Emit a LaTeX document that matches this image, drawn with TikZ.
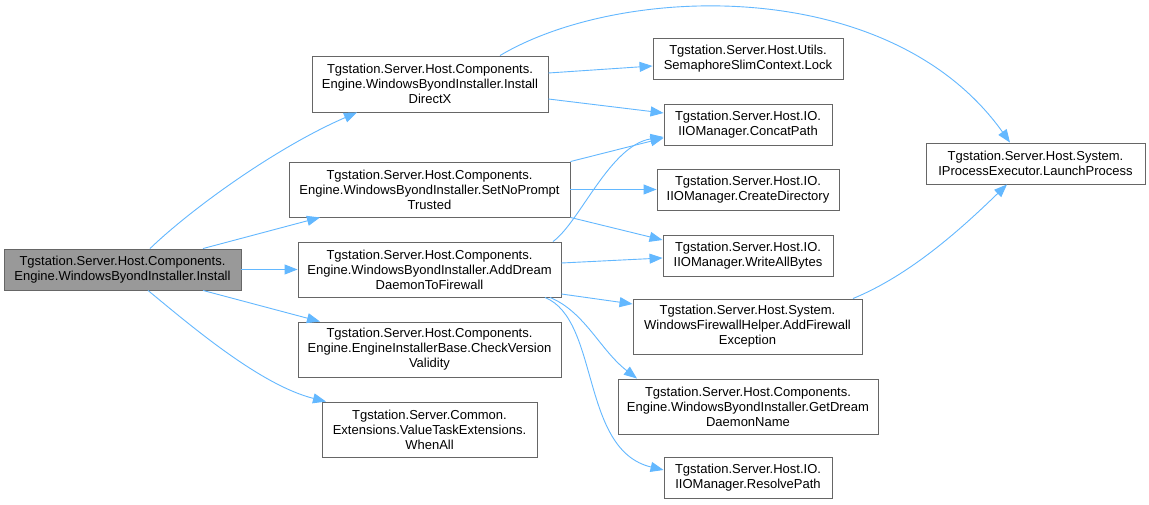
\documentclass[tikz,border=0pt]{standalone}
\usepackage{fontspec}
\setmainfont{Liberation Sans}
\usetikzlibrary{arrows.meta}
\definecolor{edgeblue}{HTML}{63B8FF}
\definecolor{nodeborder}{HTML}{666666}
\definecolor{rootfill}{HTML}{999999}
\begin{document}
\begin{tikzpicture}[x=1pt,y=-1pt,
  fnode/.style={draw=nodeborder, line width=0.9pt, fill=white, inner sep=0pt, align=center,
    font=\fontsize{13}{15}\selectfont},
  rootnode/.style={fnode, fill=rootfill},
  edge/.style={draw=edgeblue, line width=0.9pt, -{Triangle[length=13pt,width=10pt]}}]
\useasboundingbox (0,0) rectangle (1149,505);
\fill[white] (0,0) rectangle (1149,505);

\node[rootnode, minimum width=237pt, minimum height=41pt] (install) at (122.5,269.5)
  {Tgstation.Server.Host.Components.\\Engine.WindowsByondInstaller.Install};
\node[fnode, minimum width=236pt, minimum height=56pt] (idx) at (430,84)
  {Tgstation.Server.Host.Components.\\Engine.WindowsByondInstaller.Install\\DirectX};
\node[fnode, minimum width=281pt, minimum height=55pt] (snp) at (429.5,189.5)
  {Tgstation.Server.Host.Components.\\Engine.WindowsByondInstaller.SetNoPrompt\\Trusted};
\node[fnode, minimum width=263pt, minimum height=55pt] (add) at (429.5,269.5)
  {Tgstation.Server.Host.Components.\\Engine.WindowsByondInstaller.AddDream\\DaemonToFirewall};
\node[fnode, minimum width=263pt, minimum height=55pt] (chk) at (429.5,349.5)
  {Tgstation.Server.Host.Components.\\Engine.EngineInstallerBase.CheckVersion\\Validity};
\node[fnode, minimum width=215pt, minimum height=55pt] (wall) at (429.5,429.5)
  {Tgstation.Server.Common.\\Extensions.ValueTaskExtensions.\\WhenAll};
\node[fnode, minimum width=190pt, minimum height=41pt] (lock) at (748,58.5)
  {Tgstation.Server.Host.Utils.\\SemaphoreSlimContext.Lock};
\node[fnode, minimum width=168pt, minimum height=41pt] (cat) at (748,124.5)
  {Tgstation.Server.Host.IO.\\IIOManager.ConcatPath};
\node[fnode, minimum width=182pt, minimum height=41pt] (mkd) at (748,189.5)
  {Tgstation.Server.Host.IO.\\IIOManager.CreateDirectory};
\node[fnode, minimum width=170pt, minimum height=41pt] (wab) at (748,255.5)
  {Tgstation.Server.Host.IO.\\IIOManager.WriteAllBytes};
\node[fnode, minimum width=229pt, minimum height=55pt] (afe) at (747.5,326.5)
  {Tgstation.Server.Host.System.\\WindowsFirewallHelper.AddFirewall\\Exception};
\node[fnode, minimum width=260pt, minimum height=55pt] (gdd) at (748,406.5)
  {Tgstation.Server.Host.Components.\\Engine.WindowsByondInstaller.GetDream\\DaemonName};
\node[fnode, minimum width=168pt, minimum height=41pt] (rsp) at (748,477.5)
  {Tgstation.Server.Host.IO.\\IIOManager.ResolvePath};
\node[fnode, minimum width=219pt, minimum height=41pt] (lp) at (1035.5,163.5)
  {Tgstation.Server.Host.System.\\IProcessExecutor.LaunchProcess};

% Install
\draw[edge] ([xshift=27.5pt]install.north) .. controls (190,210) and (275,148) .. ([xshift=-73pt]idx.south);
\draw[edge] ([xshift=80.5pt]install.north) -- ([xshift=-109.5pt]snp.south);
\draw[edge] (install.east) -- (add.west);
\draw[edge] ([xshift=80.5pt]install.south) -- ([xshift=-109.5pt]chk.north);
\draw[edge] ([xshift=25.5pt]install.south) .. controls (190,325) and (260,385) .. ([xshift=-103.5pt]wall.north);
% InstallDirectX
\draw[edge] ([yshift=11pt]idx.east) -- ([yshift=-7.5pt]lock.west);
\draw[edge] ([yshift=-15pt]idx.east) -- ([yshift=11.5pt]cat.west);
\draw[edge] ([xshift=70pt]idx.north) .. controls (620,-16) and (890,-26) .. ([xshift=-25.5pt]lp.north);
% SetNoPrompt
\draw[edge] (snp.north east) -- ([yshift=-13.5pt]cat.west);
\draw[edge] (snp.east) -- (mkd.west);
\draw[edge] (snp.south east) -- ([yshift=15.5pt]wab.west);
% AddDream
\draw[edge] ([xshift=123.5pt]add.north) .. controls (580,222) and (610,145) .. ([yshift=-12.5pt]cat.west);
\draw[edge] ([yshift=6.5pt]add.east) -- ([yshift=-2.5pt]wab.west);
\draw[edge] ([yshift=-24.5pt]add.east) -- ([yshift=22.5pt]afe.west);
\draw[edge] ([xshift=120.5pt]add.south) .. controls (585,312) and (600,350) .. ([xshift=-111pt]gdd.north);
\draw[edge] ([xshift=115.5pt]add.south) .. controls (600,320) and (580,450) .. ([yshift=7.5pt]rsp.west);
% AddFirewallException
\draw[edge] ([xshift=105.5pt]afe.north) .. controls (910,275) and (960,230) .. ([xshift=-28.5pt]lp.south);
\end{tikzpicture}
\end{document}
